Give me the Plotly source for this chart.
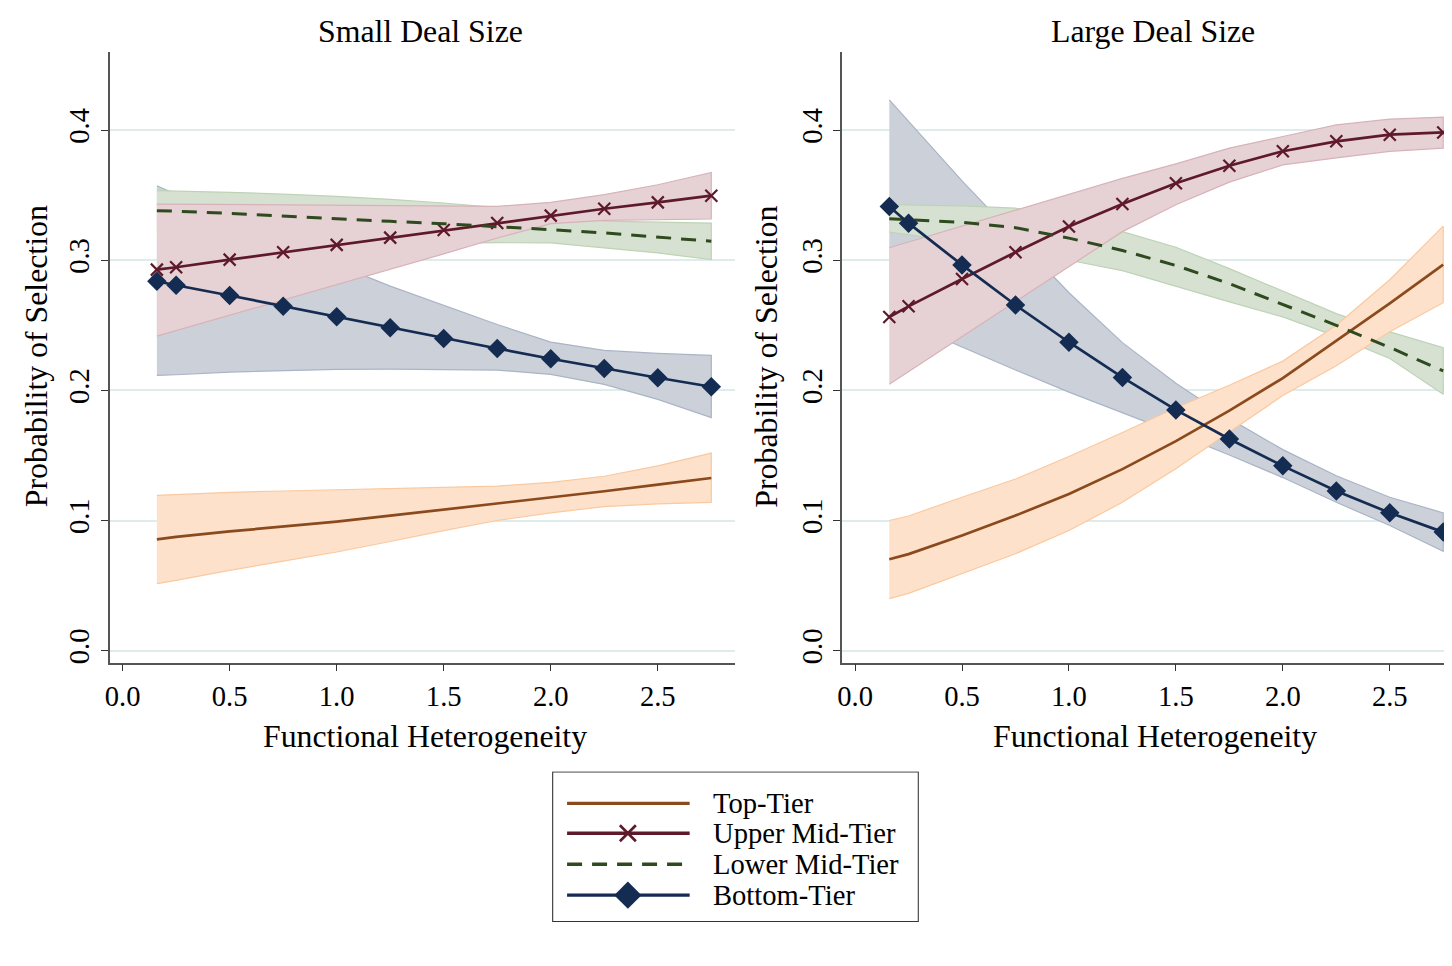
import plotly.graph_objects as go

# ---------------- data ----------------
x_vals = [0.16, 0.25, 0.5, 0.75, 1.0, 1.25, 1.5, 1.75, 2.0, 2.25, 2.5, 2.75]
series_names = ["Top-Tier", "Upper Mid-Tier", "Lower Mid-Tier", "Bottom-Tier"]
panel_titles = ["Small Deal Size", "Large Deal Size"]
x_ticks = [0.0, 0.5, 1.0, 1.5, 2.0, 2.5]
x_tick_labels = ["0.0", "0.5", "1.0", "1.5", "2.0", "2.5"]
y_ticks = [0.0, 0.1, 0.2, 0.3, 0.4]
y_tick_labels = ["0.0", "0.1", "0.2", "0.3", "0.4"]

# Small deal size
top_mid_S = [0.0855, 0.0875, 0.0916, 0.0954, 0.0992, 0.1037, 0.1084, 0.1130, 0.1176, 0.1225, 0.1276, 0.1327]
top_hi_S = [0.1194, 0.1200, 0.1217, 0.1227, 0.1237, 0.1247, 0.1258, 0.1265, 0.1293, 0.1340, 0.1420, 0.1518]
top_lo_S = [0.0515, 0.0540, 0.0617, 0.0688, 0.0758, 0.0839, 0.0923, 0.1000, 0.1059, 0.1107, 0.1128, 0.1140]

upm_mid_S = [0.2928, 0.2946, 0.3005, 0.3061, 0.3118, 0.3174, 0.3233, 0.3286, 0.3343, 0.3396, 0.3445, 0.3496]
upm_hi_S = [0.3432, 0.3431, 0.3427, 0.3424, 0.3420, 0.3417, 0.3414, 0.3414, 0.3445, 0.3504, 0.3580, 0.3675]
upm_lo_S = [0.2417, 0.2457, 0.2578, 0.2696, 0.2813, 0.2931, 0.3049, 0.3171, 0.3281, 0.3307, 0.3312, 0.3317]

lowm_mid_S = [0.3381, 0.3377, 0.3360, 0.3339, 0.3317, 0.3299, 0.3281, 0.3260, 0.3235, 0.3210, 0.3179, 0.3146]
lowm_hi_S = [0.3535, 0.3532, 0.3522, 0.3508, 0.3491, 0.3468, 0.3440, 0.3405, 0.3365, 0.3300, 0.3292, 0.3286]
lowm_lo_S = [0.3227, 0.3222, 0.3198, 0.3172, 0.3150, 0.3135, 0.3130, 0.3135, 0.3133, 0.3095, 0.3056, 0.3005]

bot_mid_S = [0.2839, 0.2808, 0.2729, 0.2647, 0.2565, 0.2481, 0.2399, 0.2322, 0.2243, 0.2169, 0.2097, 0.2028]
bot_hi_S = [0.3573, 0.3508, 0.3327, 0.3146, 0.2966, 0.2801, 0.2652, 0.2506, 0.2371, 0.2307, 0.2284, 0.2269]
bot_lo_S = [0.2115, 0.2120, 0.2141, 0.2152, 0.2161, 0.2163, 0.2161, 0.2156, 0.2123, 0.2046, 0.1931, 0.1791]

# Large deal size
top_mid_L = [0.0702, 0.0742, 0.0885, 0.1038, 0.1204, 0.1395, 0.1610, 0.1844, 0.2095, 0.2385, 0.2668, 0.2966]
top_hi_L = [0.1000, 0.1035, 0.1179, 0.1319, 0.1492, 0.1676, 0.1867, 0.2040, 0.2225, 0.2500, 0.2850, 0.3262]
top_lo_L = [0.0400, 0.0440, 0.0592, 0.0745, 0.0923, 0.1140, 0.1398, 0.1680, 0.1960, 0.2190, 0.2450, 0.2674]

upm_mid_L = [0.2564, 0.2646, 0.2856, 0.3062, 0.3260, 0.3433, 0.3592, 0.3726, 0.3838, 0.3914, 0.3965, 0.3982]
upm_hi_L = [0.3096, 0.3140, 0.3262, 0.3384, 0.3507, 0.3629, 0.3741, 0.3862, 0.3951, 0.4040, 0.4085, 0.4100]
upm_lo_L = [0.2048, 0.2145, 0.2414, 0.2683, 0.2951, 0.3220, 0.3426, 0.3600, 0.3733, 0.3786, 0.3837, 0.3862]

lowm_mid_L = [0.3318, 0.3312, 0.3292, 0.3250, 0.3170, 0.3075, 0.2960, 0.2820, 0.2660, 0.2500, 0.2330, 0.2150]
lowm_hi_L = [0.3428, 0.3426, 0.3418, 0.3400, 0.3336, 0.3220, 0.3100, 0.2936, 0.2761, 0.2590, 0.2450, 0.2329]
lowm_lo_L = [0.3216, 0.3200, 0.3140, 0.3060, 0.3000, 0.2920, 0.2800, 0.2680, 0.2565, 0.2415, 0.2245, 0.1971]

bot_mid_L = [0.3413, 0.3285, 0.2964, 0.2656, 0.2370, 0.2100, 0.1850, 0.1626, 0.1420, 0.1227, 0.1059, 0.0911]
bot_hi_L = [0.4233, 0.4070, 0.3610, 0.3180, 0.2750, 0.2367, 0.2055, 0.1783, 0.1545, 0.1344, 0.1179, 0.1059]
bot_lo_L = [0.2573, 0.2510, 0.2333, 0.2157, 0.1987, 0.1830, 0.1670, 0.1504, 0.1330, 0.1140, 0.0962, 0.0763]

# ---------------- styles ----------------
PAGE_OFF = 8                     # default body margin of the html page
NUDGE_X = 3                      # small extra horizontal correction
W, H = 1452 - PAGE_OFF, 966 - PAGE_OFF
FONT = "Liberation Serif, Times New Roman, serif"
TITLE_SIZE = 31.8
TICK_SIZE = 28.6
line_colors = {"Top-Tier": "#8B4A1D", "Upper Mid-Tier": "#5E1A2B",
               "Lower Mid-Tier": "#2E4A1E", "Bottom-Tier": "#142B52"}
band_fill = {"Top-Tier": "#FDE1CA", "Upper Mid-Tier": "#E6D1D4",
             "Lower Mid-Tier": "#D6E1D1", "Bottom-Tier": "#CCD1D9"}
band_edge = {"Top-Tier": "#FAC9A0", "Upper Mid-Tier": "#D7B3B9",
             "Lower Mid-Tier": "#BED3B6", "Bottom-Tier": "#AAB4C6"}

panels = [
    {"Top-Tier": (top_mid_S, top_hi_S, top_lo_S),
     "Upper Mid-Tier": (upm_mid_S, upm_hi_S, upm_lo_S),
     "Lower Mid-Tier": (lowm_mid_S, lowm_hi_S, lowm_lo_S),
     "Bottom-Tier": (bot_mid_S, bot_hi_S, bot_lo_S)},
    {"Top-Tier": (top_mid_L, top_hi_L, top_lo_L),
     "Upper Mid-Tier": (upm_mid_L, upm_hi_L, upm_lo_L),
     "Lower Mid-Tier": (lowm_mid_L, lowm_hi_L, lowm_lo_L),
     "Bottom-Tier": (bot_mid_L, bot_hi_L, bot_lo_L)},
]

def line_style(name, lw=2.7):
    c = line_colors[name]
    if name == "Top-Tier":
        return dict(mode="lines", line=dict(color=c, width=lw))
    if name == "Upper Mid-Tier":
        return dict(mode="lines+markers", line=dict(color=c, width=lw),
                    marker=dict(symbol="x-thin", size=12, line=dict(color=c, width=2.2)))
    if name == "Lower Mid-Tier":
        return dict(mode="lines", line=dict(color=c, width=lw + 0.3, dash="15px,10px"))
    return dict(mode="lines+markers", line=dict(color=c, width=lw),
                marker=dict(symbol="diamond", size=15, color=c))

fig = go.Figure()
axes = [("x", "y"), ("x2", "y2")]
band_order = ["Bottom-Tier", "Lower Mid-Tier", "Upper Mid-Tier", "Top-Tier"]
for (xa, ya), pdata in zip(axes, panels):
    for name in band_order:
        mid, hi, lo = pdata[name]
        fig.add_trace(go.Scatter(
            x=x_vals + x_vals[::-1], y=hi + lo[::-1], fill="toself",
            fillcolor=band_fill[name], line=dict(color=band_edge[name], width=1.2),
            mode="lines", hoverinfo="skip", showlegend=False, xaxis=xa, yaxis=ya))
    for name in series_names:
        mid, hi, lo = pdata[name]
        fig.add_trace(go.Scatter(x=x_vals, y=mid, name=name, showlegend=False,
                                 xaxis=xa, yaxis=ya, **line_style(name)))

# ---------------- layout ----------------
def px_x(p):
    return (p - PAGE_OFF - NUDGE_X) / W

def px_y(p):
    return 1 - (p - PAGE_OFF) / H

tickfont = dict(family=FONT, size=TICK_SIZE, color="black")
common_x = dict(tickmode="array", tickvals=x_ticks, ticktext=x_tick_labels,
                ticks="outside", ticklen=7, tickwidth=1.3, tickcolor="#333",
                showline=True, linecolor="#555", linewidth=1.5,
                showgrid=False, zeroline=False, tickfont=tickfont)
common_y = dict(tickmode="array", tickvals=y_ticks, ticktext=y_tick_labels,
                ticks="outside", ticklen=7, tickwidth=1.3, tickcolor="#333",
                showline=True, linecolor="#555", linewidth=1.5, tickangle=-90,
                showgrid=True, gridcolor="#DFECEC", gridwidth=1.5,
                zeroline=False, tickfont=tickfont)

fig.update_layout(
    width=W, height=H, margin=dict(l=0, r=0, t=0, b=0),
    paper_bgcolor="white", plot_bgcolor="white", showlegend=False,
    xaxis=dict(domain=[px_x(108), px_x(736)], range=[-0.0605, 2.863], anchor="y", **common_x),
    yaxis=dict(domain=[px_y(664), px_y(52)], range=[-0.0092, 0.4601], anchor="x", **common_y),
    xaxis2=dict(domain=[px_x(843), 1.0], range=[-0.0606, 2.791], anchor="y2", **common_x),
    yaxis2=dict(domain=[px_y(664), px_y(52)], range=[-0.0092, 0.4601], anchor="x2", **common_y),
    xaxis3=dict(domain=[px_x(552), px_x(920)], range=[552, 920], visible=False, fixedrange=True),
    yaxis3=dict(domain=[px_y(924), px_y(773)], range=[924, 773], visible=False, fixedrange=True,
                anchor="x3"),
)

annots = []
for cx, t in zip([420, 1155], panel_titles):
    annots.append(dict(x=px_x(cx), y=px_y(32), xref="paper", yref="paper", text=t,
                       showarrow=False, xanchor="center", yanchor="middle",
                       font=dict(family=FONT, size=TITLE_SIZE, color="black")))
for cx in [424, 1157]:
    annots.append(dict(x=px_x(cx), y=px_y(738), xref="paper", yref="paper",
                       text="Functional Heterogeneity", showarrow=False,
                       xanchor="center", yanchor="middle",
                       font=dict(family=FONT, size=TITLE_SIZE, color="black")))
for cx in [34, 767]:
    annots.append(dict(x=px_x(cx), y=px_y(357), xref="paper", yref="paper",
                       text="Probability of Selection", showarrow=False, textangle=-90,
                       xanchor="center", yanchor="middle",
                       font=dict(family=FONT, size=TITLE_SIZE, color="black")))

# ---------------- legend (drawn in its own box) ----------------
leg_rows = [805, 835, 866, 897]
leg_x0, leg_x1, leg_mark, leg_text = 567, 690, 628, 711
shapes = [dict(type="rect", xref="x3", yref="y3", x0=552.5, x1=919.5, y0=773.5, y1=923.5,
               line=dict(color="#333", width=1.2), fillcolor="rgba(0,0,0,0)")]
for name, ry in zip(series_names, leg_rows):
    st = line_style(name, lw=3.3)
    fig.add_trace(go.Scatter(x=[leg_x0, leg_x1], y=[ry, ry], mode="lines",
                             line=st["line"], xaxis="x3", yaxis="y3",
                             hoverinfo="skip", showlegend=False))
    if "marker" in st:
        mk = dict(st["marker"])
        if name == "Upper Mid-Tier":
            mk["size"] = 16
            mk["line"] = dict(color=line_colors[name], width=2.6)
        if name == "Bottom-Tier":
            mk["size"] = 21
        fig.add_trace(go.Scatter(x=[leg_mark], y=[ry], mode="markers",
                                 marker=mk, xaxis="x3", yaxis="y3",
                                 hoverinfo="skip", showlegend=False))
    annots.append(dict(x=leg_text, y=ry, xref="x3", yref="y3", text=name,
                       showarrow=False, xanchor="left", yanchor="middle",
                       font=dict(family=FONT, size=TICK_SIZE, color="black")))

fig.update_layout(annotations=annots, shapes=shapes)
fig.write_html("out.html")
